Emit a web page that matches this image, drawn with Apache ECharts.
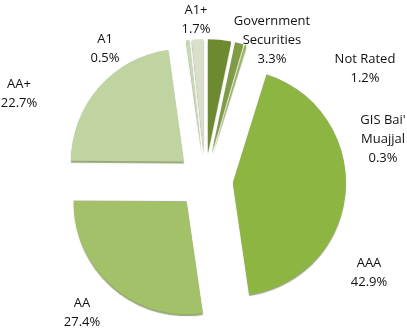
<!DOCTYPE html>
<html>
<head>
<meta charset="utf-8">
<script src="https://cdn.jsdelivr.net/npm/echarts@6/dist/echarts.min.js"></script>
<style>
html,body{margin:0;padding:0;background:#fff;}
#c{width:407px;height:330px;}
</style>
</head>
<body>
<div id="c"></div>
<script>
var categories = ["Government\nSecurities", "Not Rated", "GIS Bai'\nMuajjal", "AAA", "AA", "AA+", "A1", "A1+"];
var values = [3.3, 1.2, 0.3, 42.9, 27.4, 22.7, 0.5, 1.7];
var labels = ["3.3%", "1.2%", "0.3%", "42.9%", "27.4%", "22.7%", "0.5%", "1.7%"];

var colors = ["#6e8a30", "#809b45", "#9ab85a", "#8cb542", "#a2c169", "#bfd4a0", "#cbd8b6", "#d8e0cc"];
// label anchor positions (layout only)
var labelPos = [[272, 40], [365, 69], [383, 139], [369, 273], [82, 313], [19, 94], [105, 49], [196, 20]];

var chart = echarts.init(document.getElementById('c'), null, {renderer: 'canvas'});
var data = categories.map(function (c, i) {
  return {
    name: c,
    value: values[i],
    selected: true,
    itemStyle: {color: colors[i]}
  };
});
var texts = categories.map(function (c, i) {
  return {
    type: 'text',
    x: labelPos[i][0],
    y: labelPos[i][1],
    silent: true,
    style: {
      text: c + "\n" + labels[i],
      fontFamily: 'Open Sans',
      fontSize: 13,
      lineHeight: 19,
      fill: '#111111',
      align: 'center',
      verticalAlign: 'middle'
    }
  };
});
chart.setOption({
  animation: false,
  graphic: texts,
  series: [{
    type: 'pie',
    center: [205, 180],
    radius: 113,
    startAngle: 90,
    clockwise: true,
    selectedMode: 'multiple',
    selectedOffset: 28,
    emphasis: {disabled: true},
    itemStyle: {
      borderWidth: 0,
      shadowColor: 'rgba(70,90,30,0.55)',
      shadowBlur: 1,
      shadowOffsetY: 2
    },
    label: {show: false},
    labelLine: {show: false},
    data: data
  }]
});
</script>
</body>
</html>
